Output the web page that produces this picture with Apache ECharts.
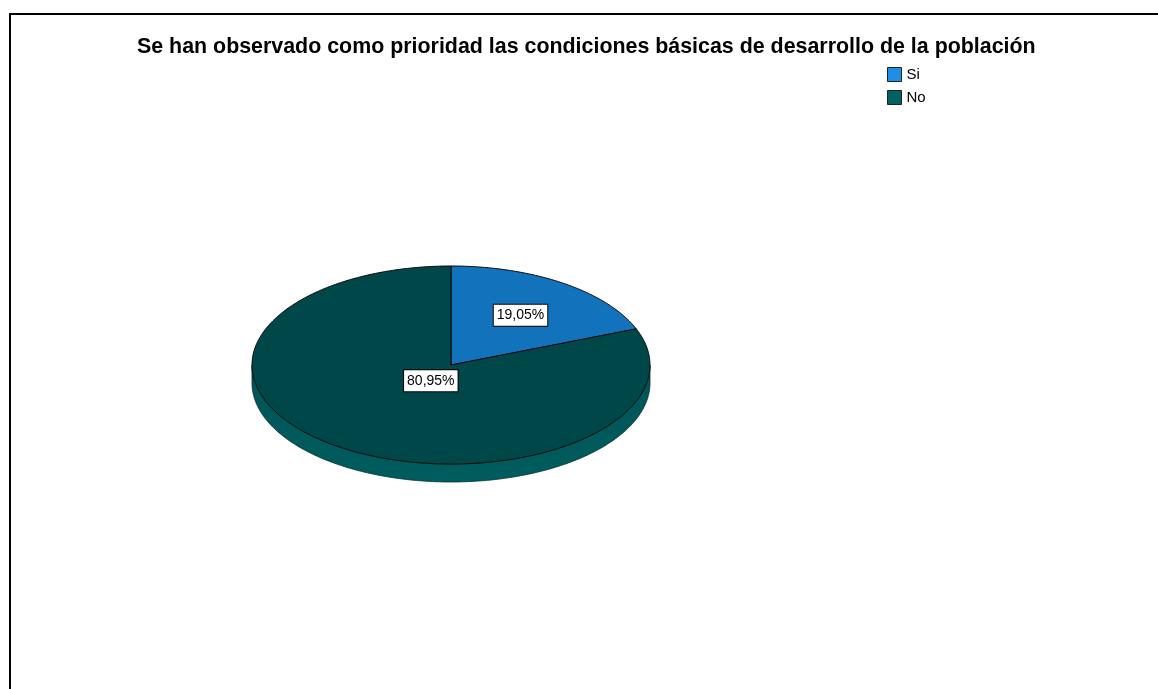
<!DOCTYPE html>
<html>
<head>
<meta charset="utf-8">
<script src="https://cdn.jsdelivr.net/npm/echarts@6/dist/echarts.min.js"></script>
<style>
html,body{margin:0;padding:0;background:#fff;}
#chart{width:1158px;height:689px;}
</style>
</head>
<body>
<div id="chart"></div>
<script>
var titleText = 'Se han observado como prioridad las condiciones básicas de desarrollo de la población';
var categories = ['Si', 'No'];
var values = [19.05, 80.95];
var labels = ['19,05%', '80,95%'];

var topColors = ['#1272bb', '#00474a'];
var sideColors = ['#0d5a94', '#005457'];
var legendColors = ['#1e8fe6', '#006262'];

var CX = 451, CY = 365, RX = 199, RY = 99, DEPTH = 18;
var labelFrac = [0.62, 0.18];

function pt(theta, dy) {
  return [CX + RX * Math.sin(theta), CY - RY * Math.cos(theta) + (dy || 0)];
}

function renderSlice(params, api) {
  var idx = params.seriesIndex;
  var total = 0, before = 0;
  for (var i = 0; i < values.length; i++) {
    total += values[i];
    if (i < idx) before += values[i];
  }
  var a0 = before / total * Math.PI * 2;
  var a1 = (before + values[idx]) / total * Math.PI * 2;
  var children = [];
  var s0 = Math.max(a0, Math.PI / 2), s1 = Math.min(a1, Math.PI * 1.5);
  if (s1 > s0) {
    var top = [], bot = [];
    var n = Math.max(2, Math.ceil((s1 - s0) / 0.01));
    for (var k = 0; k <= n; k++) {
      var t = s0 + (s1 - s0) * k / n;
      top.push(pt(t, 0));
      bot.push(pt(t, DEPTH));
    }
    children.push({
      type: 'polygon', z2: 1,
      shape: { points: top.concat(bot.reverse()) },
      style: {
        fill: {
          type: 'linear', x: 0, y: 0, x2: 0, y2: 1,
          colorStops: [{ offset: 0, color: sideColors[idx] }, { offset: 1, color: '#005c5e' }]
        },
        stroke: '#003032', lineWidth: 0.8
      }
    });
  }
  var pts = [[CX, CY]];
  var m = Math.max(2, Math.ceil((a1 - a0) / 0.01));
  for (var j = 0; j <= m; j++) {
    pts.push(pt(a0 + (a1 - a0) * j / m, 0));
  }
  children.push({
    type: 'polygon', z2: 10,
    shape: { points: pts },
    style: { fill: topColors[idx], stroke: '#0a0a0a', lineWidth: 1, lineJoin: 'round' }
  });
  var mid = (a0 + a1) / 2;
  var f = labelFrac[idx];
  children.push({
    type: 'text', z2: 20,
    x: CX + RX * f * Math.sin(mid),
    y: CY - RY * f * Math.cos(mid) + 1,
    style: {
      text: labels[idx],
      fontFamily: 'Liberation Sans, Arial, sans-serif',
      fontSize: 14,
      fill: '#000',
      align: 'center',
      verticalAlign: 'middle',
      backgroundColor: '#fff',
      borderColor: '#000',
      borderWidth: 1,
      padding: [4, 3, 3, 3]
    }
  });
  return { type: 'group', children: children };
}

var series = categories.map(function (name, i) {
  return {
    type: 'custom',
    name: name,
    coordinateSystem: 'none',
    data: [values[i]],
    itemStyle: { color: legendColors[i] },
    renderItem: renderSlice,
    silent: true,
    animation: false
  };
});

var chart = echarts.init(document.getElementById('chart'));
chart.setOption({
  backgroundColor: '#fff',
  animation: false,
  title: {
    text: titleText,
    left: 132,
    top: 32,
    textStyle: { fontFamily: 'Liberation Sans, Arial, sans-serif', fontSize: 21.4, fontWeight: 'bold', color: '#000' }
  },
  legend: {
    orient: 'vertical',
    left: 882,
    top: 62,
    icon: 'rect',
    itemWidth: 14,
    itemHeight: 14,
    itemGap: 8,
    selectedMode: false,
    textStyle: { fontFamily: 'Liberation Sans, Arial, sans-serif', fontSize: 15, color: '#000' },
    data: categories.map(function (c, i) {
      return { name: c, itemStyle: { color: legendColors[i], borderColor: '#222', borderWidth: 1 } };
    })
  },
  graphic: [{
    type: 'rect',
    shape: { x: 10, y: 14, width: 1300, height: 900 },
    style: { fill: 'none', stroke: '#000', lineWidth: 2 },
    z: 0,
    silent: true
  }],
  series: series
});
</script>
</body>
</html>
